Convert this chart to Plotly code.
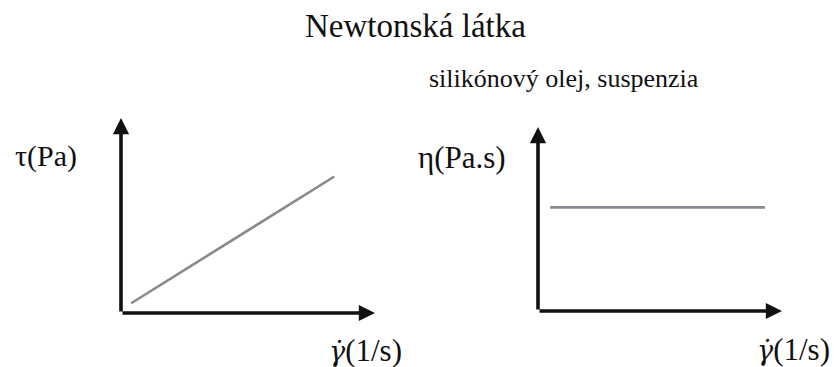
import plotly.graph_objects as go

# ---- data ----
shear_rate_left = [0.04, 0.84]
shear_stress = [0.05, 0.70]
shear_rate_right = [0.05, 0.93]
viscosity = [0.563, 0.563]

title_text = "Newtonská látka"
subtitle_text = "silikónový olej, suspenzia"
left_ylabel = "τ(Pa)"
right_ylabel = "η(Pa.s)"
xlabel = "<span style=\"font-family:DejaVu Serif;font-size:27px\"><i>γ̇</i></span>(1/s)"

W, H = 835, 367
FONT = "Liberation Serif"
INK = "#111111"

def px_x(p):
    return p / W

def px_y(p):
    return 1 - p / H

fig = go.Figure()

fig.add_trace(go.Scatter(x=shear_rate_left, y=shear_stress, mode="lines",
                         line=dict(color="#8a8a8a", width=2.6),
                         xaxis="x", yaxis="y", showlegend=False, hoverinfo="skip"))
fig.add_trace(go.Scatter(x=shear_rate_right, y=viscosity, mode="lines",
                         line=dict(color="#868b92", width=2.6),
                         xaxis="x2", yaxis="y2", showlegend=False, hoverinfo="skip"))

ax_common = dict(visible=False, range=[0, 1], fixedrange=True)
fig.update_layout(
    width=W, height=H,
    margin=dict(l=0, r=0, t=0, b=0),
    paper_bgcolor="white", plot_bgcolor="white",
    font=dict(family=FONT, color=INK),
    xaxis=dict(domain=[px_x(121), px_x(375)], anchor="y", **ax_common),
    yaxis=dict(domain=[px_y(313), px_y(118)], anchor="x", **ax_common),
    xaxis2=dict(domain=[px_x(538), px_x(782)], anchor="y2", **ax_common),
    yaxis2=dict(domain=[px_y(311), px_y(127)], anchor="x2", **ax_common),
)

annotations = []
# axis arrows
for xr, yr in (("x", "y"), ("x2", "y2")):
    for (tx, ty) in ((1, 0), (0, 1)):
        annotations.append(dict(x=tx, y=ty, ax=0, ay=0, xref=xr, yref=yr,
                                axref=xr, ayref=yr, text="", showarrow=True,
                                arrowhead=2, arrowsize=0.9, arrowwidth=3.6,
                                arrowcolor=INK))

def label(text, x, y, size):
    annotations.append(dict(text=text, x=px_x(x), y=px_y(y), xref="paper", yref="paper",
                            showarrow=False, xanchor="center", yanchor="middle",
                            font=dict(family=FONT, size=size, color=INK)))

label(title_text, 415, 26, 33)
label(subtitle_text, 564, 78, 26)
label(left_ylabel, 46, 156, 30)
label(right_ylabel, 462, 157, 31)
label(xlabel, 365, 350, 31)
label(xlabel, 793, 349, 31)

fig.update_layout(annotations=annotations)
fig.write_html("out.html", config={"displayModeBar": False},
               post_script="document.body.style.margin='0';document.body.style.overflow='hidden';")
